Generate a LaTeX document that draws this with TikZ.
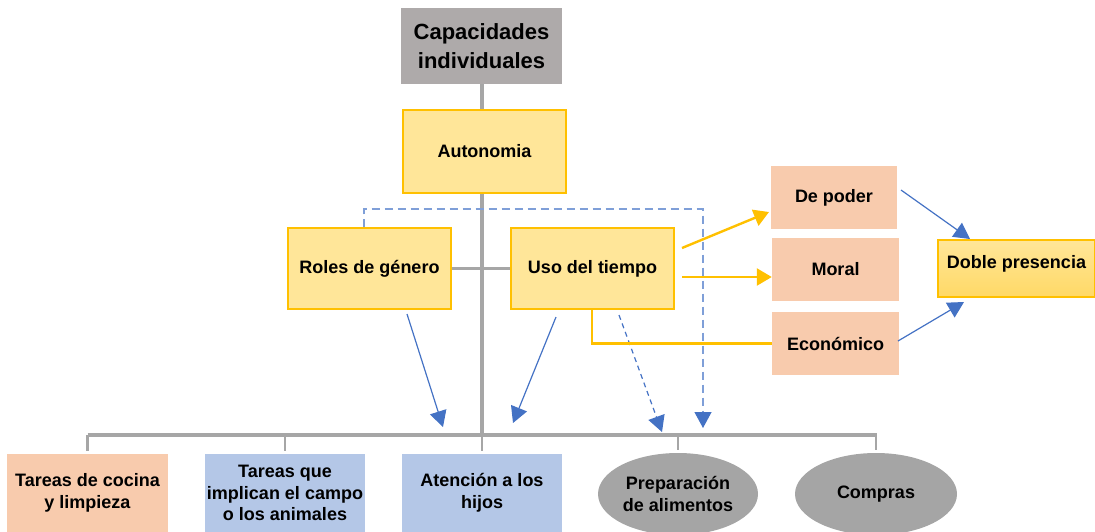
\documentclass[tikz,border=0pt]{standalone}
\usepackage{fontspec}
\setmainfont{Liberation Sans}
\usetikzlibrary{arrows.meta,shapes.geometric}
\definecolor{capgray}{HTML}{AEAAAA}
\definecolor{yfill}{HTML}{FFE699}
\definecolor{ydraw}{HTML}{FFC000}
\definecolor{yfill2}{HTML}{FFD966}
\definecolor{peach}{HTML}{F8CBAD}
\definecolor{lblue}{HTML}{B4C7E7}
\definecolor{ellgray}{HTML}{A5A5A5}
\definecolor{linegray}{HTML}{A6A6A6}
\definecolor{arrblue}{HTML}{4472C4}
\definecolor{dashblue}{HTML}{7F9FD8}
\begin{document}
\begin{tikzpicture}[x=1pt,y=-1pt,
  base/.style={inner sep=0pt, align=center, font=\fontsize{18}{21.5}\selectfont\bfseries, text=black},
  capbox/.style={base, fill=capgray, minimum width=161pt, minimum height=76pt, font=\fontsize{22}{29}\selectfont\bfseries},
  ybox/.style={base, fill=yfill, draw=ydraw, line width=1.2pt, minimum width=163pt, minimum height=81pt},
  pbox/.style={base, fill=peach, minimum width=127pt, minimum height=63pt},
  dbox/.style={base, top color=yfill, bottom color=yfill2, draw=ydraw, line width=1.2pt, minimum width=157pt, minimum height=57pt, text height=10pt, text depth=10pt},
  bbox/.style={base, minimum width=160pt, minimum height=78pt},
  ell/.style={base, ellipse, fill=ellgray, minimum width=160pt, minimum height=82pt},
  gline/.style={draw=linegray, line width=3.2pt},
  gthin/.style={draw=linegray, line width=2.6pt},
  barrow/.style={draw=arrblue, line width=1.2pt, -{Triangle[length=16pt,width=17pt]}},
  bdash/.style={draw=dashblue, line width=1.2pt, dash pattern=on 8pt off 5pt, -{Triangle[length=16pt,width=17pt,color=arrblue,fill=arrblue]}},
  bdash2/.style={draw=arrblue, line width=1.2pt, dash pattern=on 5pt off 4pt, -{Triangle[length=16pt,width=17pt]}},
  yarrow/.style={draw=ydraw, line width=2.4pt, -{Triangle[length=15pt,width=17pt]}},
  yline/.style={draw=ydraw, line width=2.4pt}
]
\useasboundingbox (0,0) rectangle (1095,531);

% nodes
\node[capbox] (cap) at (481.5,46) {Capacidades\\individuales};
\node[ybox, minimum height=83pt] (auto) at (484.5,151.5) {Autonomia};
\node[ybox] (roles) at (369.5,268.5) {Roles de género};
\node[ybox] (uso) at (592.5,268.5) {Uso del tiempo};
\node[pbox, minimum width=126pt] (poder) at (834,197.5) {De poder};
\node[pbox] (moral) at (835.5,269.5) {Moral};
\node[pbox] (econ) at (835.5,343.5) {Económico};
\node[dbox] (doble) at (1016.5,268.5) {Doble presencia};

\node[bbox, fill=peach, minimum width=161pt] (cocina) at (87.5,493) {Tareas de cocina\\y limpieza};
\node[bbox, fill=lblue] (campo) at (285,493) {Tareas que\\implican el campo\\o los animales};
\node[bbox, fill=lblue] (hijos) at (482,493) {Atención a los\\hijos};
\node[ell] (prep) at (678,494) {Preparación\\de alimentos};
\node[ell, minimum width=162pt] (compras) at (876,494) {Compras};

% grey tree
\coordinate (barL) at (87.5,435);
\coordinate (barR) at (877,435);
\coordinate (barM) at (482,435);
\draw[gline] (cap.south -| barM) -- (auto.north -| barM);
\draw[gline] (auto.south -| barM) -- (barM);
\draw[gthin] (roles.east) -- (uso.west);
\draw[gline] (barL) -- (barR);
\foreach \n in {cocina,campo,hijos,prep,compras}
  \draw[draw=linegray, line width=2.6pt] (\n.north |- barL) -- ([yshift=3pt]\n.north);

% blue connectors
\coordinate (r1) at (407,314);
\coordinate (r1e) at (443,427);
\coordinate (u1) at (556,317);
\coordinate (u1e) at (513,423);
\coordinate (u2) at (619,315);
\coordinate (u2e) at (662,432);
\coordinate (dA) at (364,209);
\coordinate (dB) at (703,209);
\coordinate (dE) at (703,428);
\draw[barrow] (r1) -- (r1e);
\draw[barrow] (u1) -- (u1e);
\draw[bdash2] (u2) -- (u2e);
\draw[bdash] (roles.north -| dA) -- (dA) -- (dB) -- (dE);

% yellow connectors
\coordinate (y1) at (682,248);
\coordinate (y1e) at (769,212);
\coordinate (y2) at (682,277);
\coordinate (yc) at (592,343.5);
\draw[yarrow] (y1) -- (y1e);
\draw[yarrow] (y2) -- (y2 -| moral.west);
\draw[yline] (uso.south -| yc) -- (yc) -- (econ.west);

% to doble presencia
\coordinate (p1) at (901,190);
\coordinate (p1e) at (970,239);
\coordinate (e1) at (898,341);
\coordinate (e1e) at (964,302);
\draw[barrow] (p1) -- (p1e);
\draw[barrow] (e1) -- (e1e);
\end{tikzpicture}
\end{document}
